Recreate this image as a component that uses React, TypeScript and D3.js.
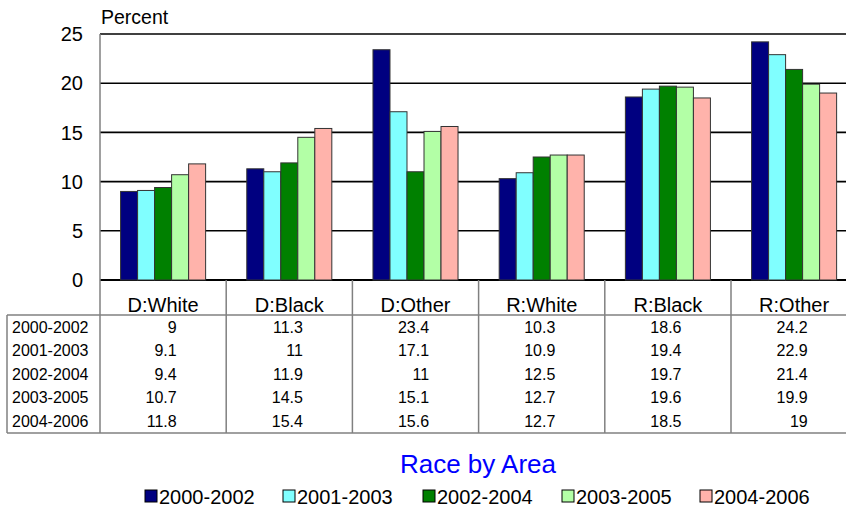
import React from "react";
import * as d3 from "d3";

const categories = ["D:White", "D:Black", "D:Other", "R:White", "R:Black", "R:Other"];
const seriesNames = ["2000-2002", "2001-2003", "2002-2004", "2003-2005", "2004-2006"];
const s2000 = [9, 11.3, 23.4, 10.3, 18.6, 24.2];
const s2001 = [9.1, 11, 17.1, 10.9, 19.4, 22.9];
const s2002 = [9.4, 11.9, 11, 12.5, 19.7, 21.4];
const s2003 = [10.7, 14.5, 15.1, 12.7, 19.6, 19.9];
const s2004 = [11.8, 15.4, 15.6, 12.7, 18.5, 19];
const seriesValues = [s2000, s2001, s2002, s2003, s2004];
const seriesColors = ["#000080", "#80FFFF", "#008000", "#B3FFA6", "#FFB3AB"];
const yTicks = [0, 5, 10, 15, 20, 25];

const W = 846;
const H = 508;
const FONT = "'Liberation Sans', Arial, sans-serif";

export default function App() {
  const left = 100;
  const right = 857.2;
  const y = d3.scaleLinear().domain([0, 25]).range([280, 34]);
  const x0 = d3.scaleBand<string>().domain(categories).range([left, right]).padding(0);
  const x1 = d3
    .scaleBand<string>()
    .domain(seriesNames)
    .range([0, x0.bandwidth()])
    .paddingInner(0)
    .paddingOuter(1.21);

  const tableTop = 280;
  const headerBottom = 315;
  const rowH = 23.6;
  const tableBottom = headerBottom + rowH * seriesNames.length;
  const lineColor = "#808080";

  const legendX = [145, 283, 423, 562, 700];

  return (
    <svg width={W} height={H} style={{ position: "absolute", left: 0, top: 0, fontFamily: FONT }}>
      <rect x={0} y={0} width={W} height={H} fill="#fff" />
      {/* gridlines */}
      {yTicks.map((t) => (
        <line key={"g" + t} x1={left} x2={W} y1={y(t)} y2={y(t)} stroke="#000" strokeWidth={t === 0 ? 2 : 1.6} />
      ))}
      {/* y axis */}
      <line x1={left} x2={left} y1={y(25)} y2={y(0)} stroke={lineColor} strokeWidth={1.5} />
      {yTicks.map((t) => (
        <text key={"t" + t} x={83} y={y(t)} dy="0.36em" textAnchor="end" fontSize={20} fill="#000">
          {t}
        </text>
      ))}
      <text x={101} y={24} fontSize={19.5} fill="#000">Percent</text>

      {/* bars */}
      {categories.map((c, ci) => (
        <g key={c} transform={`translate(${x0(c)},0)`}>
          {seriesNames.map((s, si) => {
            const v = seriesValues[si][ci];
            return (
              <rect
                key={s}
                x={x1(s)}
                y={y(v)}
                width={x1.bandwidth()}
                height={y(0) - y(v)}
                fill={seriesColors[si]}
                stroke="#333"
                strokeWidth={1}
              />
            );
          })}
        </g>
      ))}

      {/* data table */}
      <line x1={7} x2={W} y1={headerBottom} y2={headerBottom} stroke={lineColor} strokeWidth={1.5} />
      <line x1={7} x2={W} y1={tableBottom} y2={tableBottom} stroke={lineColor} strokeWidth={1.5} />
      <line x1={7} x2={7} y1={headerBottom} y2={tableBottom} stroke={lineColor} strokeWidth={1.5} />
      <line x1={left} x2={left} y1={tableTop} y2={tableBottom} stroke={lineColor} strokeWidth={1.5} />
      {categories.map((c) => (
        <line key={"v" + c} x1={(x0(c) as number) + x0.bandwidth()} x2={(x0(c) as number) + x0.bandwidth()} y1={tableTop} y2={tableBottom} stroke={lineColor} strokeWidth={1.5} />
      ))}
      {categories.map((c) => (
        <text key={"h" + c} x={(x0(c) as number) + x0.bandwidth() / 2} y={305} dy="0.36em" textAnchor="middle" fontSize={20} fill="#000">
          {c}
        </text>
      ))}
      {seriesNames.map((s, si) => (
        <g key={"r" + s}>
          <text x={12} y={headerBottom + rowH * (si + 0.5)} dy="0.36em" fontSize={16} fill="#000">
            {s}
          </text>
          {categories.map((c, ci) => (
            <text
              key={c}
              x={(x0(c) as number) + x0.bandwidth() - 49.5}
              y={headerBottom + rowH * (si + 0.5)}
              dy="0.36em"
              textAnchor="end"
              fontSize={16}
              fill="#000"
            >
              {String(seriesValues[si][ci])}
            </text>
          ))}
        </g>
      ))}

      {/* title */}
      <text x={478} y={464} dy="0.36em" textAnchor="middle" fontSize={26} fill="#0000FF">
        Race by Area
      </text>

      {/* legend */}
      {seriesNames.map((s, si) => (
        <g key={"l" + s} transform={`translate(${legendX[si]},490)`}>
          <rect x={0} y={0} width={12} height={12} fill={seriesColors[si]} stroke="#000" strokeWidth={1} />
          <text x={14} y={6.5} dy="0.36em" fontSize={20} fill="#000">
            {s}
          </text>
        </g>
      ))}
    </svg>
  );
}
